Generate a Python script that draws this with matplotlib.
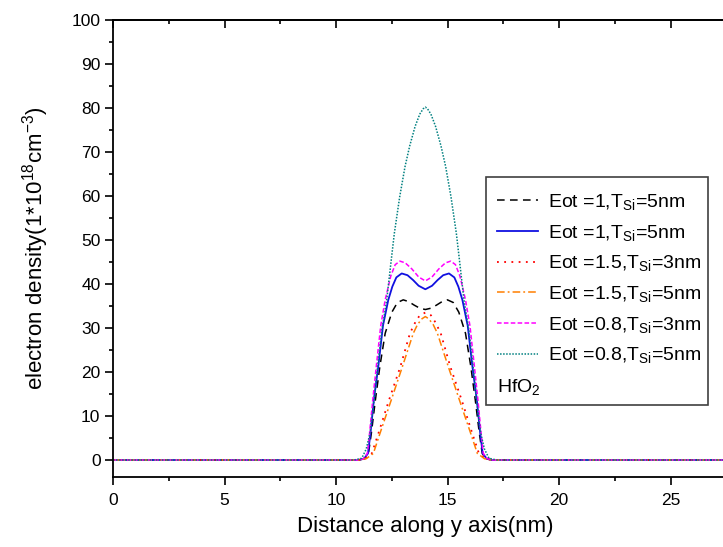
import matplotlib
matplotlib.use("Agg")
import matplotlib.pyplot as plt
from matplotlib.patches import Rectangle
from matplotlib.ticker import MultipleLocator

plt.rcParams['font.family'] = ['Liberation Sans', 'DejaVu Sans']
plt.rcParams['mathtext.fontset'] = 'custom'
plt.rcParams['mathtext.rm'] = 'Liberation Sans'
plt.rcParams['mathtext.it'] = 'Liberation Sans:italic'
plt.rcParams['mathtext.bf'] = 'Liberation Sans:bold'

# data (distance in nm, density in 1e18 cm^-3)
x_k = [0, 11.0, 11.3, 11.45, 11.58, 11.76, 11.96, 12.2, 12.5, 12.75, 13.01, 13.25,
       13.5, 13.75, 14.0, 14.25, 14.5, 14.75, 14.99, 15.25, 15.5, 15.8, 16.04,
       16.24, 16.42, 16.55, 16.7, 17.0, 28]
y_k = [0, 0, 0.3, 1.5, 6.1, 13.6, 21.2, 28.8, 33.6, 35.8, 36.4, 36.0,
       35.2, 34.5, 34.2, 34.5, 35.2, 36.0, 36.4, 35.8, 33.6, 28.8, 21.2,
       13.6, 6.1, 1.5, 0.3, 0, 0]

x_b = [0, 11.0, 11.25, 11.43, 11.54, 11.7, 11.89, 12.1, 12.34, 12.52, 12.7, 12.94,
       13.2, 13.45, 13.7, 14.0, 14.3, 14.55, 14.8, 15.06, 15.3, 15.48, 15.66,
       15.9, 16.11, 16.3, 16.46, 16.57, 16.75, 17.0, 28]
y_b = [0, 0, 0.3, 1.5, 6.1, 14.0, 21.2, 30.5, 36.4, 39.4, 41.5, 42.4,
       42.0, 40.9, 39.6, 38.8, 39.6, 40.9, 42.0, 42.4, 41.5, 39.4, 36.4,
       30.5, 21.2, 14.0, 6.1, 1.5, 0.3, 0, 0]

x_r = [0, 11.0, 11.3, 11.6, 11.9, 12.37, 12.88, 13.31, 13.55, 13.75, 14.0,
       14.25, 14.45, 14.69, 15.12, 15.63, 16.1, 16.4, 16.7, 17.0, 28]
y_r = [0, 0, 0.3, 1.5, 6.1, 13.6, 21.2, 28.8, 31.3, 32.9, 33.5,
       32.9, 31.3, 28.8, 21.2, 13.6, 6.1, 1.5, 0.3, 0, 0]

x_o = [0, 11.0, 11.35, 11.67, 11.97, 12.47, 12.97, 13.46, 13.65, 13.85, 14.0,
       14.15, 14.35, 14.54, 15.03, 15.53, 16.03, 16.33, 16.65, 17.0, 28]
y_o = [0, 0, 0.3, 1.5, 6.1, 13.6, 21.2, 28.8, 30.8, 32.1, 32.6,
       32.1, 30.8, 28.8, 21.2, 13.6, 6.1, 1.5, 0.3, 0, 0]

x_m = [0, 11.0, 11.22, 11.4, 11.5, 11.65, 11.8, 12.0, 12.2, 12.45, 12.65, 12.86,
       13.1, 13.4, 13.7, 14.0, 14.3, 14.6, 14.9, 15.14, 15.35, 15.55, 15.8,
       16.0, 16.2, 16.35, 16.5, 16.6, 16.78, 17.0, 28]
y_m = [0, 0, 0.3, 1.5, 6.1, 14.0, 21.2, 30.5, 36.4, 41.8, 44.4, 45.2,
       44.8, 43.4, 41.6, 40.7, 41.6, 43.4, 44.8, 45.2, 44.4, 41.8, 36.4,
       30.5, 21.2, 14.0, 6.1, 1.5, 0.3, 0, 0]

x_t = [0, 10.8, 11.15, 11.35, 11.52, 11.7, 11.86, 12.05, 12.27, 12.45, 12.61, 12.85,
       13.09, 13.3, 13.54, 13.75, 13.9, 14.0, 14.1, 14.25, 14.46, 14.7, 14.91,
       15.15, 15.39, 15.55, 15.73, 15.95, 16.14, 16.3, 16.48, 16.65, 16.85, 17.2, 28]
y_t = [0, 0, 0.4, 2.5, 6.1, 13.5, 21.2, 29.5, 36.4, 44.5, 51.5, 59.8,
       66.7, 71.4, 75.8, 78.6, 79.8, 80.2, 79.8, 78.6, 75.8, 71.4, 66.7,
       59.8, 51.5, 44.5, 36.4, 29.5, 21.2, 13.5, 6.1, 2.5, 0.4, 0, 0]

labels = [r'Eot =1,T$_{\mathrm{Si}}$=5nm',
          r'Eot =1,T$_{\mathrm{Si}}$=5nm',
          r'Eot =1.5,T$_{\mathrm{Si}}$=3nm',
          r'Eot =1.5,T$_{\mathrm{Si}}$=5nm',
          r'Eot =0.8,T$_{\mathrm{Si}}$=3nm',
          r'Eot =0.8,T$_{\mathrm{Si}}$=5nm']

fig = plt.figure(figsize=(7.23, 5.47), dpi=100)
W, H = 723.0, 547.0
# axes runs 0..28 nm; right spine falls just outside the picture
ax = fig.add_axes([113 / W, (H - 477.3) / H, (22.31 * 28) / W, 457.3 / H])

ax.plot(x_k, y_k, color='black', lw=1.1, dashes=(5, 3.5), label=labels[0])
ax.plot(x_b, y_b, color='#1010e0', lw=1.3, label=labels[1])
ax.plot(x_r, y_r, color='red', lw=1.3, dashes=(1, 3), label=labels[2])
ax.plot(x_o, y_o, color='#ff7f00', lw=1.1, dashes=(5, 2, 1.2, 2), label=labels[3])
ax.plot(x_m, y_m, color='magenta', lw=1.1, dashes=(3, 1.5), label=labels[4])
ax.plot(x_t, y_t, color='#008080', lw=1.1, dashes=(1, 1), label=labels[5])

ax.set_xlim(0, 28)
ax.set_ylim(-3.93, 100)
ax.xaxis.set_major_locator(MultipleLocator(5))
ax.xaxis.set_minor_locator(MultipleLocator(2.5))
ax.yaxis.set_major_locator(MultipleLocator(10))
ax.yaxis.set_minor_locator(MultipleLocator(5))
ax.tick_params(which='both', direction='out', width=1.2, labelsize=12.5,
               top=False, right=False)
ax.tick_params(which='major', length=6)
ax.tick_params(which='minor', length=3)
ax.tick_params(axis='x', pad=5)
ax.tick_params(axis='y', pad=3)
for s in ax.spines.values():
    s.set_linewidth(1.3)

# top ticks point inward
sec = ax.secondary_xaxis('top')
sec.xaxis.set_major_locator(MultipleLocator(5))
sec.xaxis.set_minor_locator(MultipleLocator(2.5))
sec.tick_params(which='both', direction='in', width=1.2, labeltop=False)
sec.tick_params(which='major', length=6)
sec.tick_params(which='minor', length=3)
sec.spines['top'].set_linewidth(1.3)

ax.set_xlabel('Distance along y axis(nm)', fontsize=16, labelpad=6)
ax.set_ylabel(r'electron density(1*10$^{18}$cm$^{-3}$)', fontsize=16, labelpad=15)

leg = fig.legend(loc='upper left', bbox_to_anchor=(497 / W, (H - 192) / H),
                 frameon=False, fontsize=14, handlelength=2.1,
                 handletextpad=0.5, labelspacing=0.55, borderpad=0,
                 borderaxespad=0)
fig.patches.append(Rectangle((486 / W, (H - 405) / H), 222 / W, 228 / H,
                             transform=fig.transFigure, fill=False,
                             edgecolor='#404040', lw=1.2))
fig.text(497 / W, (H - 387) / H, r'HfO$_2$', fontsize=14, va='center')

fig.savefig('out.png', dpi=100)
